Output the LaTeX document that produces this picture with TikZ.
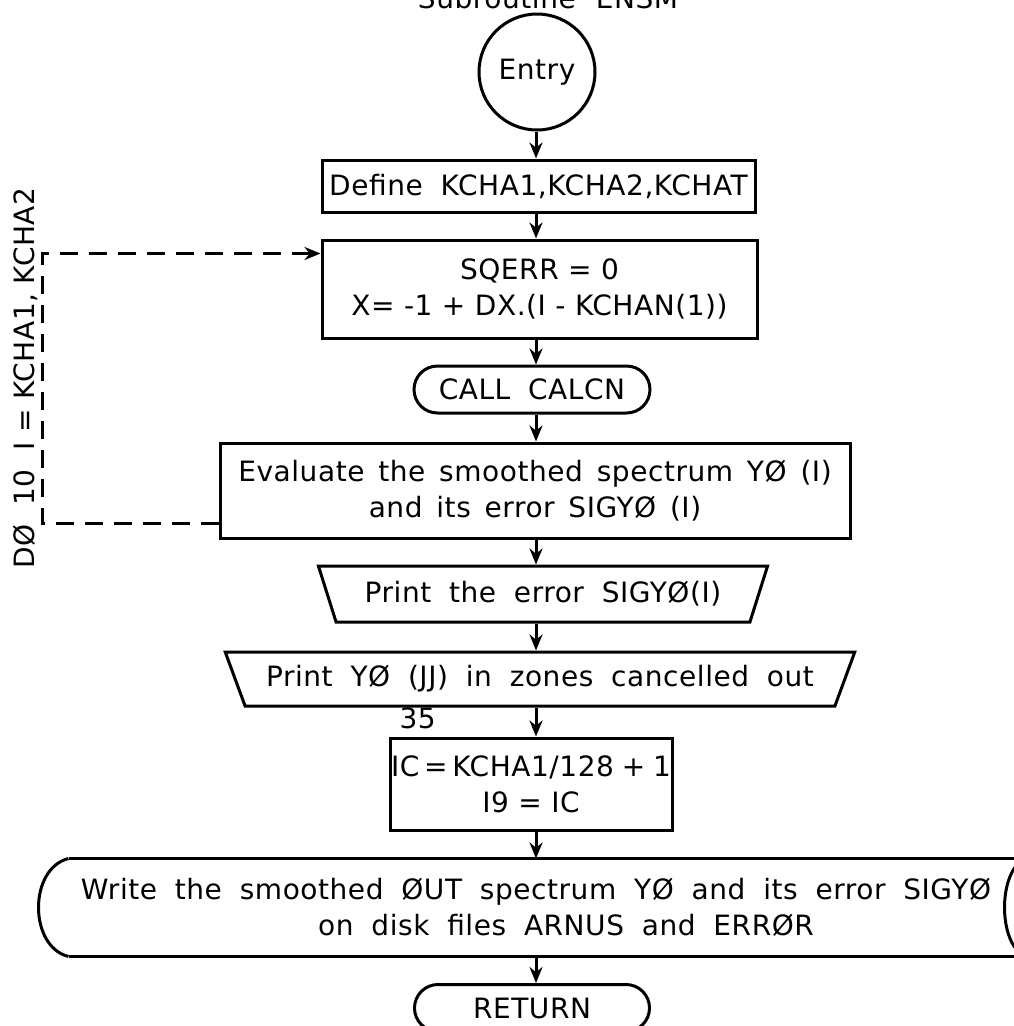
\documentclass[tikz,border=0pt]{standalone}
\usepackage{fontspec}
\setmainfont{DejaVu Sans}[LetterSpace=2]
\usetikzlibrary{arrows.meta,shapes.geometric,shapes.misc,calc}
% interword space for the lettering
\newcommand\wordgap[1]{\spaceskip=#1pt\relax}
\begin{document}
\begin{tikzpicture}[x=1pt,y=-1pt,
  line width=3pt,
  every node/.style={font=\fontsize{28}{36}\selectfont\wordgap{17.8}, inner sep=0pt},
  eq/.style={font=\fontsize{28}{36}\selectfont\wordgap{0}},
  mid/.style={font=\fontsize{28}{36}\selectfont\wordgap{13.8}},
  proc/.style={draw, rectangle, align=center},
  term/.style={draw, rounded rectangle, align=center},
  io/.style={draw, trapezium, shape border rotate=180, trapezium stretches=true, align=center},
  flow/.style={-{Stealth[length=16pt,width=13pt]}},
  loopline/.style={flow, dash pattern=on 18pt off 11pt}
]
\path[use as bounding box] (0,0) rectangle (1014,1026);
\clip (0,0) rectangle (1014,1026);

% heading
\node[anchor=base] (title) at (548,8) {Subroutine\hspace{20pt}ENSM};

% flow chart boxes
\node[draw, circle, minimum size=116pt] (entry) at (537,72) {Entry};
\node[proc, minimum width=433pt, minimum height=52pt] (define) at (538.5,186) {Define\ KCHA1,KCHA2,KCHAT};
\node[proc, eq, minimum width=435pt, minimum height=98pt] (sqerr) at (539.5,289) {SQERR = 0\\ X= -1 + DX.(I - KCHAN(1))};
\node[term, minimum width=236pt, minimum height=47pt] (call) at (532,389.5) {CALL CALCN};
\node[proc, mid, minimum width=630pt, minimum height=95pt] (eval) at (535,490.5) {Evaluate the smoothed spectrum YØ (I)\\and its error SIGYØ (I)};
\node[io, trapezium angle=58.7, minimum width=450pt, minimum height=56pt] (perr) at (543,594) {Print the error SIGYØ(I)};
\node[io, trapezium angle=55.6, minimum width=630pt, minimum height=54pt] (pyo) at (540,679) {Print YØ (JJ) in zones cancelled out};
\node[anchor=base west, eq] (lab35) at (398,728) {35};
\node[proc, eq, minimum width=282pt, minimum height=92pt] (ic) at (531,784) {IC\,=\,KCHA1/128\;+\;1\\I9 = IC};
\node[minimum width=932pt, minimum height=95pt, align=center] (write) at (536,907.5) {Write the smoothed ØUT spectrum YØ and its error SIGYØ\\\hspace*{60pt}on disk files ARNUS and ERRØR};
\node[term, minimum width=235pt, minimum height=47pt] (ret) at (532,1008) {RETURN};

% stored-data outline round the write step
\draw (write.north west) .. controls ($(write.north west)+(-40,10)$) and ($(write.south west)+(-40,-10)$) .. (write.south west);
\draw (write.north west) -- ($(write.north east)+(30,0)$);
\draw (write.south west) -- ($(write.south east)+(30,0)$);
\draw ($(write.north east)+(22,0)$) .. controls ($(write.north east)+(-6,12)$) and ($(write.south east)+(-6,-12)$) .. ($(write.south east)+(22,0)$);

% main connectors
\coordinate (col) at (536,0);
\foreach \a/\b in {entry/define, define/sqerr, sqerr/call, call/eval, eval/perr, perr/pyo, pyo/ic, ic/write, write/ret}
  \draw[flow] (\a.south -| col) -- (\b.north -| col);

% DO loop
\coordinate (loopx) at (42,0);
\draw[loopline] ($(eval.south west)+(0,-16)$) coordinate (lstart) -- (lstart -| loopx) |- ($(sqerr.north west)+(0,15)$);
\node[rotate=90, eq] (dolab) at (25,378) {DØ\ \ 10\ \ I = KCHA1, KCHA2};
\end{tikzpicture}
\end{document}
